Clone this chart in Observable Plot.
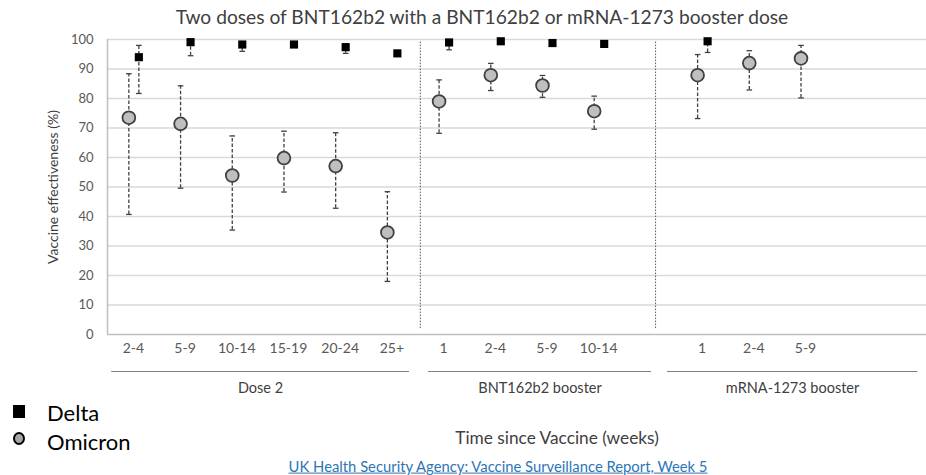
<!DOCTYPE html>
<html>
<head>
<meta charset="utf-8">
<script src="https://cdn.jsdelivr.net/npm/d3@7"></script>
<script src="https://cdn.jsdelivr.net/npm/@observablehq/plot@0.6"></script>
<style>
  html, body { margin: 0; padding: 0; background: #fff; }
  #wrap { position: relative; width: 926px; height: 475px; overflow: hidden; font-family: Lato, "Open Sans", sans-serif; }
  #chart { position: absolute; left: 0; top: 0; }
  .lbl { position: absolute; white-space: nowrap; transform: translate(-50%, -50%); line-height: 1; }
</style>
</head>
<body>
<div id="wrap">
  <div id="chart"></div>
</div>
<script>
// ---- data ----
const title = "Two doses of BNT162b2 with a BNT162b2 or mRNA-1273 booster dose";
const yLabel = "Vaccine effectiveness (%)";
const xLabel = "Time since Vaccine (weeks)";
const source = "UK Health Security Agency: Vaccine Surveillance Report, Week 5";
const yTicks = [0, 10, 20, 30, 40, 50, 60, 70, 80, 90, 100];

// category slots (slot 10 is an empty spacer)
const slots  = [0, 1, 2, 3, 4, 5, 6, 7, 8, 9, 11, 12, 13];
const labels = ["2-4", "5-9", "10-14", "15-19", "20-24", "25+", "1", "2-4", "5-9", "10-14", "1", "2-4", "5-9"];

const omicron   = [73.5, 71.4, 53.9, 59.8, 57.1, 34.6, 79.0, 87.9, 84.4, 75.7, 87.9, 92.0, 93.6];
const omicronLo = [40.7, 49.6, 35.4, 48.3, 42.8, 18.0, 68.2, 82.7, 80.4, 69.6, 73.2, 82.9, 80.2];
const omicronHi = [88.4, 84.3, 67.3, 68.9, 68.4, 48.4, 86.3, 91.9, 87.8, 80.8, 94.9, 96.2, 98.0];

const deltaSlots = [0, 1, 2, 3, 4, 5, 6, 7, 8, 9, 11];
const delta   = [94.0, 99.1, 98.3, 98.3, 97.4, 95.3, 99.0, 99.4, 98.8, 98.5, 99.4];
const deltaLo = [81.7, 94.5, 96.0, 97.6, 95.3, 94.6, 96.5, 98.8, 98.0, 97.7, 95.6];
const deltaHi = [98.0, 99.8, 99.0, 98.9, 98.6, 96.0, 99.6, 99.8, 99.3, 99.1, 100.0];

const groupNames = ["Dose 2", "BNT162b2 booster", "mRNA-1273 booster"];
const groupFrom  = [-0.42, 5.71, 10.33];
const groupTo    = [5.34, 10.02, 15.17];
const separators = [5.55, 10.1];

// ---- tables ----
const omi = slots.map((s, i) => ({slot: s, v: omicron[i], lo: omicronLo[i], hi: omicronHi[i]}));
const del = deltaSlots.map((s, i) => ({slot: s, v: delta[i], lo: deltaLo[i], hi: deltaHi[i]}));
const ticks = slots.map((s, i) => ({slot: s, label: labels[i]}));
const groups = groupNames.map((n, i) => ({name: n, from: groupFrom[i], to: groupTo[i]}));

const cap = { draw(ctx, size) { const r = Math.sqrt(size / Math.PI); ctx.moveTo(-r, 0); ctx.lineTo(r, 0); } };
const errColor = "#404040";
const dash = "3.5,2";

const chart = Plot.plot({
  width: 926, height: 475,
  marginTop: 39, marginBottom: 141, marginLeft: 107, marginRight: 0,
  style: {fontFamily: "Lato, 'Open Sans', sans-serif", overflow: "visible", background: "transparent"},
  x: {domain: [-0.5, 15.34], axis: null},
  y: {domain: [0, 100], axis: null},
  marks: [
    Plot.ruleY(yTicks.filter(d => d > 0), {stroke: "#d9d9d9", strokeWidth: 1.5}),
    Plot.ruleY([0], {stroke: "#bfbfbf", strokeWidth: 1.5}),
    Plot.ruleX([-0.5], {y1: 0, y2: 100, stroke: "#bfbfbf", strokeWidth: 1.5}),
    Plot.ruleX(separators, {y1: 2, y2: 99.3, stroke: "#595959", strokeWidth: 1, strokeDasharray: "1.5,1.5"}),
    Plot.axisY({ticks: yTicks, tickSize: 0, tickPadding: 14, fontSize: 13, fill: "#595959", label: null}),
    Plot.text(ticks, {x: "slot", y: () => 0, text: "label", dy: 14, fontSize: 14, fill: "#595959", lineAnchor: "middle"}),
    Plot.ruleY(groups, {y: () => 0, x1: "from", x2: "to", dy: 37, stroke: "#7f7f7f", strokeWidth: 1.2}),
    Plot.text(groups, {x: d => (d.from + d.to) / 2, y: () => 0, text: "name", dy: 54, fontSize: 14.5, fill: "#404040", lineAnchor: "middle"}),
    // Delta error bars
    Plot.ruleX(del, {x: "slot", y1: "lo", y2: "hi", dx: 5.5, stroke: errColor, strokeWidth: 1.3, strokeDasharray: dash}),
    Plot.dot(del, {x: "slot", y: "lo", dx: 5.5, symbol: cap, r: 2.8, fill: "none", stroke: errColor, strokeWidth: 1.3}),
    Plot.dot(del, {x: "slot", y: "hi", dx: 5.5, symbol: cap, r: 2.8, fill: "none", stroke: errColor, strokeWidth: 1.3}),
    // Omicron error bars
    Plot.ruleX(omi, {x: "slot", y1: "lo", y2: "hi", dx: -4.5, stroke: errColor, strokeWidth: 1.3, strokeDasharray: dash}),
    Plot.dot(omi, {x: "slot", y: "lo", dx: -4.5, symbol: cap, r: 2.8, fill: "none", stroke: errColor, strokeWidth: 1.3}),
    Plot.dot(omi, {x: "slot", y: "hi", dx: -4.5, symbol: cap, r: 2.8, fill: "none", stroke: errColor, strokeWidth: 1.3}),
    // points
    Plot.dot(del, {x: "slot", y: "v", dx: 5.5, symbol: "square", r: 4.6, fill: "#000", stroke: "none"}),
    Plot.dot(omi, {x: "slot", y: "v", dx: -4.5, r: 6.4, fill: "#bfbfbf", stroke: "#404040", strokeWidth: 1.8})
  ]
});
document.getElementById("chart").appendChild(chart);

// ---- HTML text ----
const wrap = document.getElementById("wrap");
function place(text, cx, cy, css) {
  const d = document.createElement("div");
  d.className = "lbl";
  d.textContent = text;
  d.style.left = cx + "px";
  d.style.top = cy + "px";
  Object.assign(d.style, css || {});
  wrap.appendChild(d);
  return d;
}
place(title, 482, 17, {fontSize: "19.2px", color: "#404040"});
place(yLabel, 53, 187, {fontSize: "14px", color: "#404040", transform: "translate(-50%, -50%) rotate(-90deg)"});
place(xLabel, 557, 438, {fontSize: "17.3px", color: "#404040"});
place(source, 498, 466, {fontSize: "14.8px", color: "#2e75b6", textDecoration: "underline"});

// legend
const sq = document.createElement("div");
Object.assign(sq.style, {position: "absolute", left: "13px", top: "405px", width: "12px", height: "13px", background: "#000"});
wrap.appendChild(sq);
const ci = document.createElement("div");
Object.assign(ci.style, {position: "absolute", left: "13px", top: "432px", width: "8px", height: "9px", borderRadius: "50%", background: "#a6a6a6", border: "2.2px solid #000"});
wrap.appendChild(ci);
place("Delta", 47, 413, {fontSize: "22px", color: "#000", transform: "translate(0, -50%)"});
place("Omicron", 47, 442, {fontSize: "22px", color: "#000", transform: "translate(0, -50%)"});
</script>
</body>
</html>
